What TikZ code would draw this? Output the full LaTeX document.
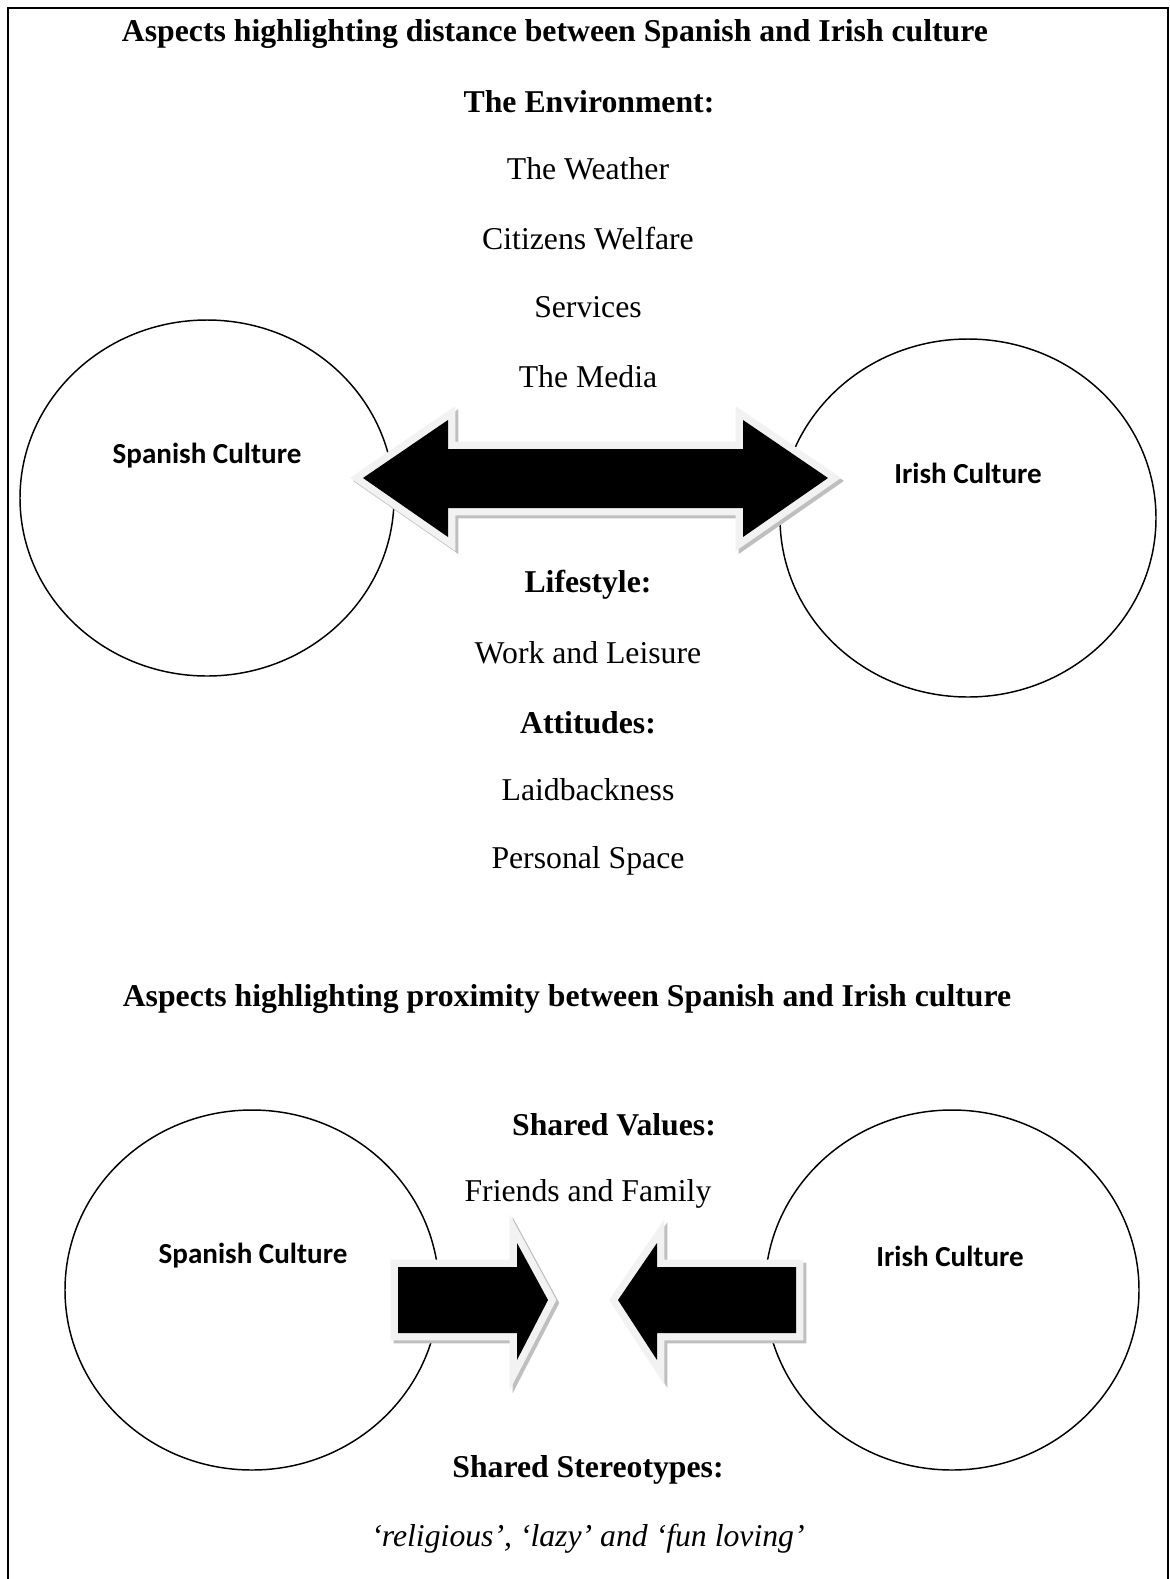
\documentclass[tikz,border=0pt]{standalone}
\usepackage{fontspec}
\setmainfont{Liberation Serif}
\newfontfamily\calibri{Carlito}
\definecolor{rimcol}{HTML}{F2F2F2}
\definecolor{shadcol}{HTML}{BFBFBF}
\begin{document}
\begin{tikzpicture}[x=0.75pt,y=-0.75pt,
  txt/.style={font=\fontsize{23.8}{28}\selectfont, inner sep=0pt, anchor=center},
  hd/.style={font=\fontsize{23.8}{28}\selectfont\bfseries, inner sep=0pt, anchor=center},
  it/.style={font=\fontsize{23.8}{28}\selectfont\itshape, inner sep=0pt, anchor=center},
  lab/.style={font=\calibri\bfseries\fontsize{21.8}{26}\selectfont, inner sep=0pt, anchor=center},
  culture/.style={draw, line width=1.1pt},
  shadsty/.style={draw=shadcol, line width=11pt, line join=miter},
  rimsty/.style={draw=rimcol, line width=11pt, line join=miter},
  blk/.style={fill=black},
  darrow/.style={insert path={(363,478) -- (448,420) -- (448,449) -- (743,449) -- (743,420) -- (828,478) -- (743,537) -- (743,508) -- (448,508) -- (448,537) -- cycle}},
  rarrow/.style={insert path={(398,1267) -- (517,1267) -- (517,1243) -- (548,1300) -- (517,1360) -- (517,1333) -- (398,1333) -- cycle}},
  larrow/.style={insert path={(796,1267) -- (657,1267) -- (657,1243) -- (618,1300) -- (657,1360) -- (657,1333) -- (796,1333) -- cycle}}
]
\useasboundingbox (0,0) rectangle (1170,1579);
\fill[white] (0,0) rectangle (1170,1579);
% border
\draw[line width=1.3pt] (8,1590) -- (8,8) -- (1168,8) -- (1168,1590);

% circles
\draw[culture] (207,498) ellipse [x radius=140.25pt, y radius=133.5pt];
\draw[culture] (968,518) ellipse [x radius=141pt, y radius=134.25pt];
\draw[culture] (252,1290) ellipse [x radius=140.25pt, y radius=135pt];
\draw[culture] (952,1290) ellipse [x radius=140.25pt, y radius=135pt];

% arrows
\draw[shadsty, shift={(3,3)}, darrow];
\draw[rimsty, darrow];
\fill[blk, darrow];
\draw[shadsty, shift={(3,3)}, rarrow];
\draw[rimsty, rarrow];
\fill[blk, rarrow];
\draw[shadsty, shift={(3,3)}, larrow];
\draw[rimsty, larrow];
\fill[blk, larrow];

% texts top
\node[hd] (t1) at (555,34) {Aspects highlighting distance between Spanish and Irish culture};
\node[hd] (env) at (589,102) {The Environment:};
\node[txt] (w) at (588,169) {The Weather};
\node[txt] (cw) at (588,239) {Citizens Welfare};
\node[txt] (sv) at (588,307) {Services};
\node[txt] (md) at (588,377) {The Media};
\node[hd] (ls) at (588,585) {Lifestyle:};
\node[txt] (wl) at (588,653) {Work and Leisure};
\node[hd] (at) at (588,723) {Attitudes:};
\node[txt] (lb) at (588,790) {Laidbackness};
\node[txt] (ps) at (588,861) {Personal Space};
\node[lab] (sc1) at (207,456) {Spanish Culture};
\node[lab] (ic1) at (968,473) {Irish Culture};

% texts bottom
\node[hd] (t2) at (567,999) {Aspects highlighting proximity between Spanish and Irish culture};
\node[hd] (shv) at (614,1125) {Shared Values:};
\node[txt] (ff) at (588,1194) {Friends and Family};
\node[hd] (sst) at (588,1470) {Shared Stereotypes:};
\node[it] (st) at (588,1539) {‘religious’, ‘lazy’ and ‘fun loving’};
\node[lab] (sc2) at (253,1256) {Spanish Culture};
\node[lab] (ic2) at (950,1256) {Irish Culture};
\end{tikzpicture}
\end{document}
